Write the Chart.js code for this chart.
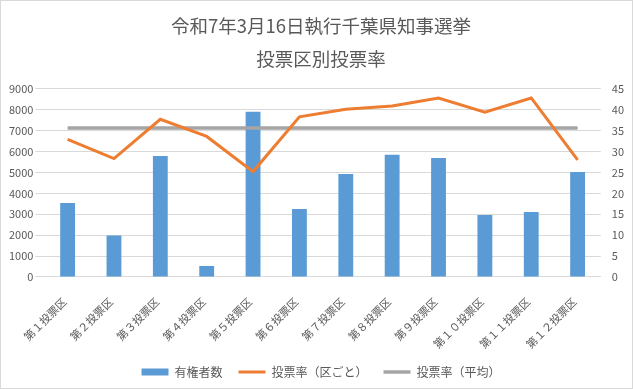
<!DOCTYPE html>
<html>
<head>
<meta charset="utf-8">
<script src="https://cdn.jsdelivr.net/npm/chart.js@4.4.1/dist/chart.umd.min.js"></script>
<style>
html,body{margin:0;padding:0;background:#fff;}
#wrap{position:relative;width:633px;height:389px;box-sizing:border-box;border:1px solid #d9d9d9;background:#fff;}
canvas{display:block;}
</style>
</head>
<body>
<div id="wrap"><canvas id="c" width="631" height="387"></canvas></div>
<script>
const titleLines = ['令和7年3月16日執行千葉県知事選挙', '投票区別投票率'];
const categories = ['第１投票区','第２投票区','第３投票区','第４投票区','第５投票区','第６投票区','第７投票区','第８投票区','第９投票区','第１０投票区','第１１投票区','第１２投票区'];
const voters = [3540, 1980, 5790, 530, 7900, 3250, 4930, 5840, 5690, 2970, 3110, 5020];
const turnout = [32.9, 28.3, 37.7, 33.6, 25.2, 38.3, 40.1, 40.9, 42.8, 39.4, 42.8, 28.0];
const turnoutAvg = [35.6, 35.6, 35.6, 35.6, 35.6, 35.6, 35.6, 35.6, 35.6, 35.6, 35.6, 35.6];
const seriesNames = ['有権者数', '投票率（区ごと）', '投票率（平均）'];

const FONT = "'Noto Sans CJK JP', 'Noto Sans', sans-serif";
const TXT = '#595959';
const GRID = '#d9d9d9';

new Chart(document.getElementById('c'), {
  data: {
    labels: categories,
    datasets: [
      { type: 'bar', label: seriesNames[0], data: voters, backgroundColor: '#5B9BD5', borderWidth: 0,
        yAxisID: 'y', order: 3, barPercentage: 0.64, categoryPercentage: 0.5, pointStyle: 'rect' },
      { type: 'line', label: seriesNames[1], data: turnout, borderColor: '#ED7D31', backgroundColor: '#ED7D31',
        borderWidth: 3, pointRadius: 0, tension: 0, yAxisID: 'y2', order: 1, pointStyle: 'line' },
      { type: 'line', label: seriesNames[2], data: turnoutAvg, borderColor: '#A5A5A5', backgroundColor: '#A5A5A5',
        borderWidth: 3.5, pointRadius: 0, tension: 0, yAxisID: 'y2', order: 2, pointStyle: 'line' }
    ]
  },
  options: {
    responsive: false,
    animation: false,
    layout: { padding: { left: 6, right: -3, top: 0, bottom: 0 } },
    plugins: {
      tooltip: { enabled: false },
      title: {
        display: true, text: titleLines, color: TXT,
        font: { family: FONT, size: 18.5, weight: 'normal', lineHeight: 1.75 },
        padding: { top: 9, bottom: 14 }
      },
      legend: {
        position: 'bottom',
        labels: {
          usePointStyle: true, pointStyleWidth: 27, boxWidth: 27, boxHeight: 7,
          color: TXT, font: { family: FONT, size: 12 }, padding: 16,
          sort: (a, b) => a.datasetIndex - b.datasetIndex
        }
      }
    },
    scales: {
      x: {
        offset: true,
        grid: { display: false },
        border: { color: GRID },
        ticks: { color: TXT, font: { family: FONT, size: 11 }, maxRotation: 45, minRotation: 45, padding: 10, labelOffset: -3 },
        afterFit: (scale) => { scale.height -= 11; }
      },
      y: {
        position: 'left', min: 0, max: 9000,
        ticks: { stepSize: 1000, color: TXT, font: { family: FONT, size: 11 }, padding: 2,
          callback: v => String(v) },
        grid: { color: GRID, drawTicks: true, tickLength: 9, tickColor: GRID },
        border: { display: false }
      },
      y2: {
        position: 'right', min: 0, max: 45,
        ticks: { stepSize: 5, color: TXT, font: { family: FONT, size: 11 }, padding: 11,
          callback: v => String(v) },
        grid: { display: false, drawTicks: false },
        border: { display: false }
      }
    }
  }
});
</script>
</body>
</html>
